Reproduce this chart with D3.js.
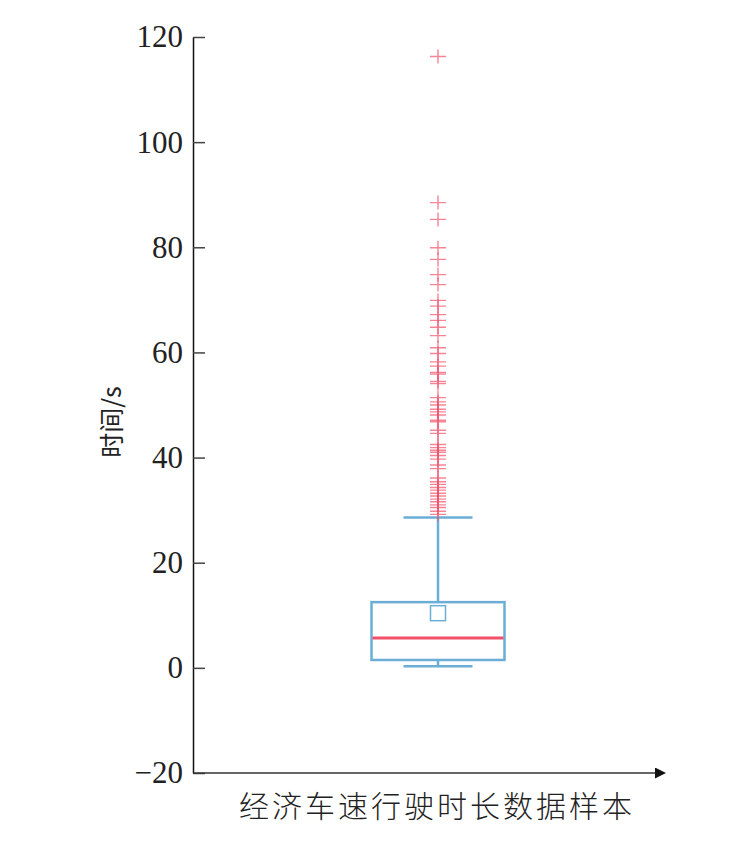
<!DOCTYPE html>
<html>
<head>
<meta charset="utf-8">
<script src="https://cdn.jsdelivr.net/npm/d3@7"></script>
<style>
  body { margin: 0; background: #fff; }
  .tick text { font-family: "Liberation Serif", "DejaVu Serif", serif; }
</style>
</head>
<body>
<script>
// data
var category = ["经济车速行驶时长数据样本"];
var boxStats = { whiskerLow: 0.3, q1: 1.5, median: 5.7, q3: 12.5, whiskerHigh: 28.6, mean: 10.4 };
var outliers = [116.3, 88.5, 85.3, 79.9, 77.7, 74.8, 72.9, 69.9, 68.8, 67.2, 66.1, 64.8, 63.2,
    60.9, 59.8, 58.2, 57.4, 55.9, 56.2, 54.5, 54.1, 51.4, 50.6, 50.0, 49.2, 48.7, 48.1, 47.1,
    46.8, 45.2, 44.6, 42.5, 41.9, 41.4, 41.0, 40.4, 39.7, 38.6, 37.9, 36.1, 35.4, 34.9, 34.3,
    33.8, 33.2, 32.7, 32.1, 31.6, 31.0, 30.5, 29.8, 29.2];
var yTicks = [-20, 0, 20, 40, 60, 80, 100, 120];

var W = 753, H = 848;
var blue = "#6aaed6", red = "#f0506a";

var svg = d3.select("body").append("svg")
    .attr("width", W)
    .attr("height", H);

var yScale = d3.scaleLinear()
    .domain([-20, 120])
    .range([773, 37]);

var xScale = d3.scaleBand()
    .domain(category)
    .range([193, 683]);

var cx = xScale(category[0]) + xScale.bandwidth() / 2;
var boxW = 133, capW = 69;

// y axis, ticks pointing inward
var yAxis = svg.append("g")
    .attr("transform", "translate(193,0)")
    .call(d3.axisLeft(yScale).tickValues(yTicks).tickSize(0).tickPadding(10)
        .tickFormat(function (d) { return d < 0 ? "\u2212" + Math.abs(d) : d; }));
yAxis.select(".domain").attr("stroke", "#111").attr("stroke-width", 1.5);
yAxis.selectAll(".tick text").attr("font-size", 31).attr("fill", "#222");
yAxis.selectAll(".tick").append("line")
    .attr("x1", 0).attr("x2", 12)
    .attr("stroke", "#444").attr("stroke-width", 1.5);

// x axis with arrow
svg.append("defs").append("marker")
    .attr("id", "arrow")
    .attr("viewBox", "0 0 10 10")
    .attr("refX", 0).attr("refY", 5)
    .attr("markerWidth", 20).attr("markerHeight", 11)
    .attr("markerUnits", "userSpaceOnUse")
    .attr("orient", "auto")
    .append("path")
    .attr("d", "M0,0L10,5L0,10z")
    .attr("fill", "#111");

svg.append("line")
    .attr("x1", 193).attr("x2", 655)
    .attr("y1", yScale(-20)).attr("y2", yScale(-20))
    .attr("stroke", "#333").attr("stroke-width", 1.5)
    .attr("marker-end", "url(#arrow)");

// axis titles
svg.append("text")
    .attr("x", cx - 1)
    .attr("y", 817)
    .attr("text-anchor", "middle")
    .attr("font-family", "'Noto Sans CJK SC', sans-serif")
    .attr("font-weight", 300)
    .attr("font-size", 30)
    .attr("letter-spacing", 3)
    .attr("fill", "#222")
    .text(category[0]);

svg.append("text")
    .attr("transform", "translate(121,422) rotate(-90)")
    .attr("text-anchor", "middle")
    .attr("font-family", "'Noto Sans CJK SC', sans-serif")
    .attr("font-weight", 400)
    .attr("font-size", 25)
    .attr("fill", "#222")
    .text("时间/s");

// box plot
var g = svg.append("g");

g.append("line")
    .attr("x1", cx).attr("x2", cx)
    .attr("y1", yScale(boxStats.q3)).attr("y2", yScale(boxStats.whiskerHigh))
    .attr("stroke", blue).attr("stroke-width", 2.5);
g.append("line")
    .attr("x1", cx).attr("x2", cx)
    .attr("y1", yScale(boxStats.q1)).attr("y2", yScale(boxStats.whiskerLow))
    .attr("stroke", blue).attr("stroke-width", 2.5);

g.selectAll("line.cap")
    .data([boxStats.whiskerHigh, boxStats.whiskerLow])
    .enter().append("line")
    .attr("class", "cap")
    .attr("x1", cx - capW / 2).attr("x2", cx + capW / 2)
    .attr("y1", function (d) { return yScale(d); })
    .attr("y2", function (d) { return yScale(d); })
    .attr("stroke", blue).attr("stroke-width", 2.5);

g.append("rect")
    .attr("x", cx - boxW / 2)
    .attr("y", yScale(boxStats.q3))
    .attr("width", boxW)
    .attr("height", yScale(boxStats.q1) - yScale(boxStats.q3))
    .attr("fill", "none")
    .attr("stroke", blue).attr("stroke-width", 2.5);

g.append("line")
    .attr("x1", cx - boxW / 2 + 1).attr("x2", cx + boxW / 2 - 1)
    .attr("y1", yScale(boxStats.median)).attr("y2", yScale(boxStats.median))
    .attr("stroke", red).attr("stroke-width", 3);

g.append("rect")
    .attr("x", cx - 7.5)
    .attr("y", yScale(boxStats.mean) - 7.5)
    .attr("width", 15).attr("height", 15)
    .attr("fill", "none")
    .attr("stroke", blue).attr("stroke-width", 1.5);

// outliers as "+"
g.selectAll("path.outlier")
    .data(outliers)
    .enter().append("path")
    .attr("class", "outlier")
    .attr("transform", function (d) { return "translate(" + cx + "," + yScale(d) + ")"; })
    .attr("d", "M-8,0H8M0,-7V7")
    .attr("fill", "none")
    .attr("stroke", red)
    .attr("stroke-opacity", 0.7)
    .attr("stroke-width", 1.4);
</script>
</body>
</html>
